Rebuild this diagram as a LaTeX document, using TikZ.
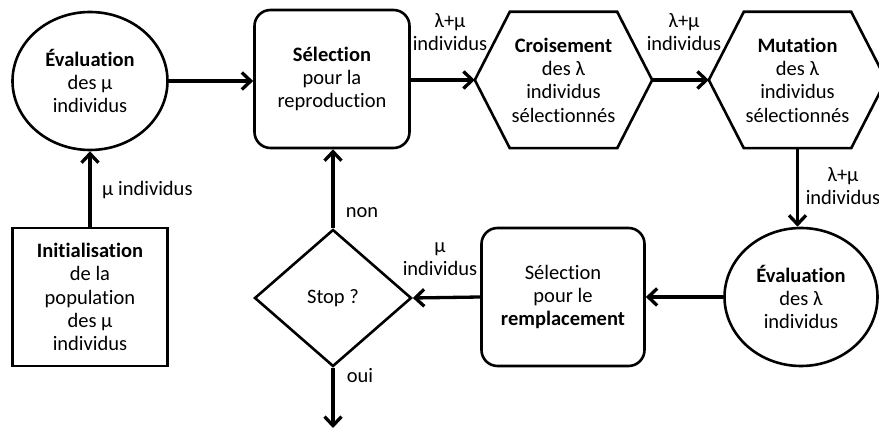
\documentclass[tikz,border=0pt]{standalone}
\usepackage{fontspec}
\setmainfont{Carlito}[Ligatures=NoCommon]
\usetikzlibrary{shapes.geometric,arrows.meta}
\begin{document}
\begin{tikzpicture}[x=1pt, y=-1pt,
  every node/.style={font=\fontsize{20.5}{23.3}\selectfont, align=center, inner sep=0pt},
  ovale/.style={ellipse, draw, line width=2.6pt, minimum width=155pt, minimum height=138pt},
  block/.style={draw, line width=2.6pt, minimum width=155pt, minimum height=138pt},
  rblock/.style={block, rounded corners=16pt},
  hexa/.style={minimum width=177pt, minimum height=136pt},
  losange/.style={diamond, draw, line width=2.6pt, minimum width=157pt, minimum height=137pt},
  fleche/.style={-{Straight Barb[length=9pt,width=17pt]}, line width=3.3pt}]

  \clip (0,0) rectangle (879,430);

  % Top row
  \node[ovale] (E1) at (90,81) {\textbf{Évaluation}\\des μ\\individus};
  \node[rblock] (S1) at (332,79) {\textbf{Sélection}\\pour la\\reproduction};
  \node[hexa] (C) at (563.5,80) {\textbf{Croisement}\\des λ\\individus\\sélectionnés};
  \node[hexa] (M) at (797.5,80) {\textbf{Mutation}\\des λ\\individus\\sélectionnés};

  % hexagon outlines
  \foreach \n in {C,M}
    \draw[line width=2.6pt] ([xshift=35pt]\n.north west) -- ([xshift=-35pt]\n.north east) -- (\n.east)
      -- ([xshift=-35pt]\n.south east) -- ([xshift=35pt]\n.south west) -- (\n.west) -- cycle;

  % Bottom row
  \node[block] (I) at (90,297) {\textbf{Initialisation}\\de la\\population\\des μ\\individus};
  \node[losange] (D) at (333,298) {Stop ?};
  \node[rblock, minimum width=163pt] (S2) at (563,297) {Sélection\\pour le\\\textbf{remplacement}};
  \node[ovale, minimum width=153pt] (E2) at (801,297) {\textbf{Évaluation}\\des λ\\individus};
  \coordinate (F) at (333,428);

  % Labels
  \node[anchor=west] (L1) at (102,190) {μ individus};
  \node (L2) at (450,32) {λ+μ\\individus};
  \node (L3) at (684,32) {λ+μ\\individus};
  \node (L4) at (843,186) {λ+μ\\individus};
  \node (L5) at (440,259) {μ\\individus};
  \node (L6) at (362,213) {non};
  \node (L7) at (360,376) {oui};

  % Arrows
  \draw[fleche] (I.north) -- (E1.south);
  \draw[fleche] (E1.east) -- (E1.east -| S1.west);
  \draw[fleche] (S1.east |- C.west) -- (C.west);
  \draw[fleche] (C.east) -- (M.west);
  \draw[fleche] (M.south) -- (M.south |- E2.north);
  \draw[fleche] (E2.west) -- (S2.east);
  \draw[fleche] (S2.west) -- (D.east);
  \draw[fleche] (D.north) -- (D.north |- S1.south);
  \draw[fleche] (D.south) -- (F);

\end{tikzpicture}
\end{document}
